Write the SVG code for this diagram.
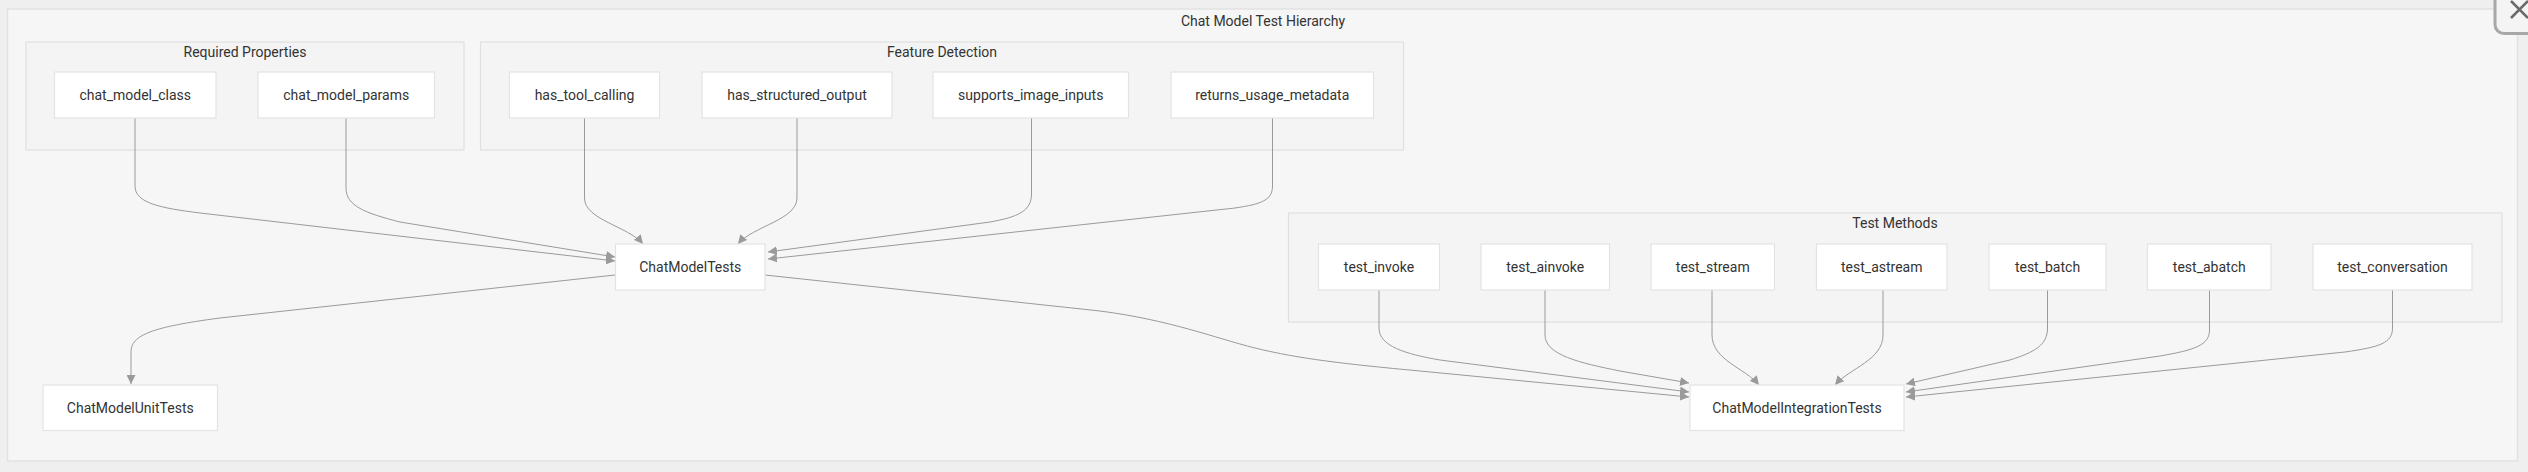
<svg xmlns="http://www.w3.org/2000/svg" width="2528" height="472" viewBox="0 0 2528 472">
<defs>
<style>
.frame{fill:#f6f6f6;stroke:#e2e2e2;stroke-width:1.5}
.cluster{fill:#f4f4f4;stroke:#e0e0e0;stroke-width:1.2}
.node rect{fill:#ffffff;stroke:#e3e3e3;stroke-width:1.2}
text{font-family:Roboto,"Liberation Sans",Arial,sans-serif;font-size:14px;fill:#333333;text-anchor:middle;dominant-baseline:central}
.edges path{fill:none;stroke:#9a9a9a;stroke-width:1;marker-end:url(#arrow)}
</style>
<marker id="arrow" viewBox="0 0 10 10" refX="10" refY="5" markerWidth="9" markerHeight="9" markerUnits="userSpaceOnUse" orient="auto">
<path d="M0,0 L10,5 L0,10 z" fill="#9a9a9a"/>
</marker>
</defs>
<rect x="0" y="0" width="2528" height="472" fill="#efefef"/>
<rect class="frame" x="7.5" y="9" width="2510" height="452"/>
<text x="1263" y="21">Chat Model Test Hierarchy</text>

<g id="cluster-required">
<rect class="cluster" x="26" y="42" width="438" height="108"/>
<text x="245" y="52">Required Properties</text>
</g>
<g id="cluster-feature">
<rect class="cluster" x="480.5" y="42" width="923" height="108"/>
<text x="942" y="52">Feature Detection</text>
</g>
<g id="cluster-methods">
<rect class="cluster" x="1288.5" y="213" width="1213.5" height="109"/>
<text x="1895" y="223">Test Methods</text>
</g>

<g class="edges" id="connectors">
<path d="M135,118 V186 C135,203 160,208 200,213 L615,261"/>
<path d="M346,118 V188 C346,206 365,213 400,222 L615,257"/>
<path d="M584.5,118 V198 C584.5,220 628,226 643,244"/>
<path d="M797,118 V198 C797,220 753,226 738,244"/>
<path d="M1031.5,118 V194 C1031.5,211 1018,217 990,222 L768,252"/>
<path d="M1272.5,118 V186 C1272.5,200 1262,204 1235,208 L768,259"/>
<path d="M615,275 L220,318 C152,327 131,335 131,352 V384"/>
<path d="M765,275 L1100,311 C1170,320 1215,338 1255,348 C1300,359 1345,364 1420,371 L1689,397"/>
<path d="M1379,290 V328 C1379,346 1405,354 1440,360 L1689,392"/>
<path d="M1545,290 V335 C1545,355 1580,363 1620,371 L1689,383"/>
<path d="M1712,290 V335 C1712,360 1745,368 1759,385"/>
<path d="M1883,290 V335 C1883,360 1850,368 1835,385"/>
<path d="M2047.5,290 V328 C2047.5,345 2035,352 2010,360 L1906,384"/>
<path d="M2209.5,290 V330 C2209.5,345 2195,350 2160,356 L1906,392"/>
<path d="M2392.5,290 V328 C2392.5,343 2380,347 2345,352 L1906,397"/>
</g>

<g class="node" id="chat_model_class"><rect x="54.5" y="72" width="161.5" height="46"/><text x="135.25" y="95">chat_model_class</text></g>
<g class="node" id="chat_model_params"><rect x="258" y="72" width="176.5" height="46"/><text x="346.25" y="95">chat_model_params</text></g>
<g class="node" id="has_tool_calling"><rect x="509.5" y="72" width="150" height="46"/><text x="584.5" y="95">has_tool_calling</text></g>
<g class="node" id="has_structured_output"><rect x="702" y="72" width="190" height="46"/><text x="797" y="95">has_structured_output</text></g>
<g class="node" id="supports_image_inputs"><rect x="933" y="72" width="195.5" height="46"/><text x="1030.75" y="95">supports_image_inputs</text></g>
<g class="node" id="returns_usage_metadata"><rect x="1171" y="72" width="202.5" height="46"/><text x="1272.25" y="95">returns_usage_metadata</text></g>

<g class="node" id="ChatModelTests"><rect x="615.5" y="244" width="149.5" height="46"/><text x="690.25" y="267">ChatModelTests</text></g>

<g class="node" id="test_invoke"><rect x="1318.5" y="244" width="121" height="46"/><text x="1379" y="267">test_invoke</text></g>
<g class="node" id="test_ainvoke"><rect x="1481" y="244" width="128.5" height="46"/><text x="1545.25" y="267">test_ainvoke</text></g>
<g class="node" id="test_stream"><rect x="1651" y="244" width="123.5" height="46"/><text x="1712.75" y="267">test_stream</text></g>
<g class="node" id="test_astream"><rect x="1816.5" y="244" width="130.5" height="46"/><text x="1881.75" y="267">test_astream</text></g>
<g class="node" id="test_batch"><rect x="1989" y="244" width="117" height="46"/><text x="2047.5" y="267">test_batch</text></g>
<g class="node" id="test_abatch"><rect x="2147.5" y="244" width="123.5" height="46"/><text x="2209.25" y="267">test_abatch</text></g>
<g class="node" id="test_conversation"><rect x="2313" y="244" width="159" height="46"/><text x="2392.5" y="267">test_conversation</text></g>

<g class="node" id="ChatModelUnitTests"><rect x="43" y="385" width="174.5" height="45.5"/><text x="130.25" y="408">ChatModelUnitTests</text></g>
<g class="node" id="ChatModelIntegrationTests"><rect x="1690" y="385" width="214" height="45.5"/><text x="1797" y="408">ChatModelIntegrationTests</text></g>

<g id="close-button">
<rect x="2495" y="-20" width="60" height="53.5" rx="9" fill="#f4f4f4" stroke="#a8a8a8" stroke-width="3"/>
<path d="M2511,1 L2528,18 M2511,18 L2528,1" stroke="#6a6a6a" stroke-width="2.5" fill="none"/>
</g>
</svg>
